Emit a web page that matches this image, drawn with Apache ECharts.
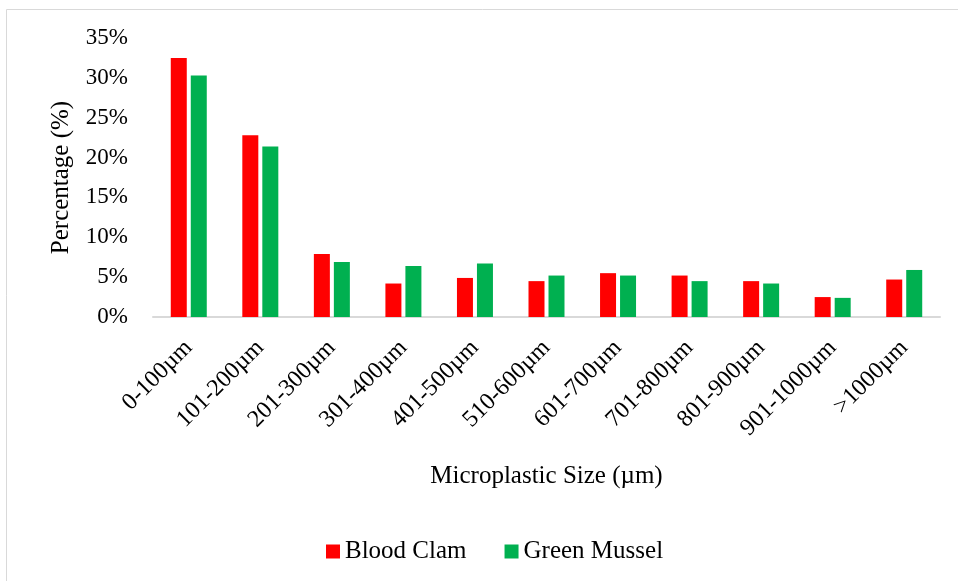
<!DOCTYPE html>
<html>
    <head>
        <meta charset='utf-8'>
        <script src='https://cdn.jsdelivr.net/npm/echarts@6/dist/echarts.min.js'></script>
    </head>
    <body style="margin:0">
        <style>
            html, body, #main {
                width: 958px;
                height: 581px;
                background: #fff;
            }
        </style>
        <div id='main'></div>
        <script>
            var sizes = ['0-100\u00b5m', '101-200\u00b5m', '201-300\u00b5m', '301-400\u00b5m', '401-500\u00b5m',
                '510-600\u00b5m', '601-700\u00b5m', '701-800\u00b5m', '801-900\u00b5m', '901-1000\u00b5m', '>1000\u00b5m'];
            var bloodClam = [32.5, 22.8, 7.9, 4.2, 4.9, 4.5, 5.5, 5.2, 4.5, 2.5, 4.7];
            var greenMussel = [30.3, 21.4, 6.9, 6.4, 6.7, 5.2, 5.2, 4.5, 4.2, 2.4, 5.9];

            var font = 'Liberation Serif, Times New Roman, serif';
            var chart = echarts.init(document.getElementById('main'));
            chart.setOption({
                textStyle: { fontFamily: font, color: '#000' },
                graphic: [{
                    type: 'rect',
                    shape: { x: 6.5, y: 9.5, width: 970, height: 590 },
                    style: { fill: 'none', stroke: '#d9d9d9', lineWidth: 1 },
                    silent: true
                }],
                legend: {
                    left: 321,
                    top: 534,
                    itemWidth: 14,
                    itemHeight: 14,
                    itemGap: 38,
                    icon: 'rect',
                    textStyle: { fontFamily: font, fontSize: 25, color: '#000' },
                    data: ['Blood Clam', 'Green Mussel']
                },
                grid: {
                    left: 153,
                    right: 18,
                    top: 38,
                    bottom: 264
                },
                xAxis: {
                    type: 'category',
                    data: sizes,
                    name: 'Microplastic Size (\u00b5m)',
                    nameLocation: 'middle',
                    nameGap: 147,
                    nameTextStyle: { fontFamily: font, fontSize: 25, color: '#000' },
                    axisLine: { lineStyle: { color: '#d9d9d9', width: 2 } },
                    axisTick: { show: false },
                    axisLabel: {
                        rotate: 45,
                        margin: 27,
                        interval: 0,
                        fontFamily: font,
                        fontSize: 24,
                        color: '#000'
                    }
                },
                yAxis: {
                    type: 'value',
                    min: 0,
                    max: 35,
                    interval: 5,
                    name: 'Percentage (%)',
                    nameLocation: 'middle',
                    nameRotate: 90,
                    nameGap: 79,
                    nameTextStyle: { fontFamily: font, fontSize: 25, color: '#000' },
                    splitLine: { show: false },
                    axisLine: { show: false },
                    axisTick: { show: false },
                    axisLabel: {
                        formatter: '{value}%',
                        margin: 25,
                        fontFamily: font,
                        fontSize: 23,
                        color: '#000'
                    }
                },
                series: [
                    {
                        name: 'Blood Clam',
                        type: 'bar',
                        barWidth: 16,
                        barGap: '25%',
                        itemStyle: { color: '#ff0000' },
                        data: bloodClam
                    },
                    {
                        name: 'Green Mussel',
                        type: 'bar',
                        barWidth: 16,
                        itemStyle: { color: '#00b050' },
                        data: greenMussel
                    }
                ]
            });
        </script>
    </body>
</html>
